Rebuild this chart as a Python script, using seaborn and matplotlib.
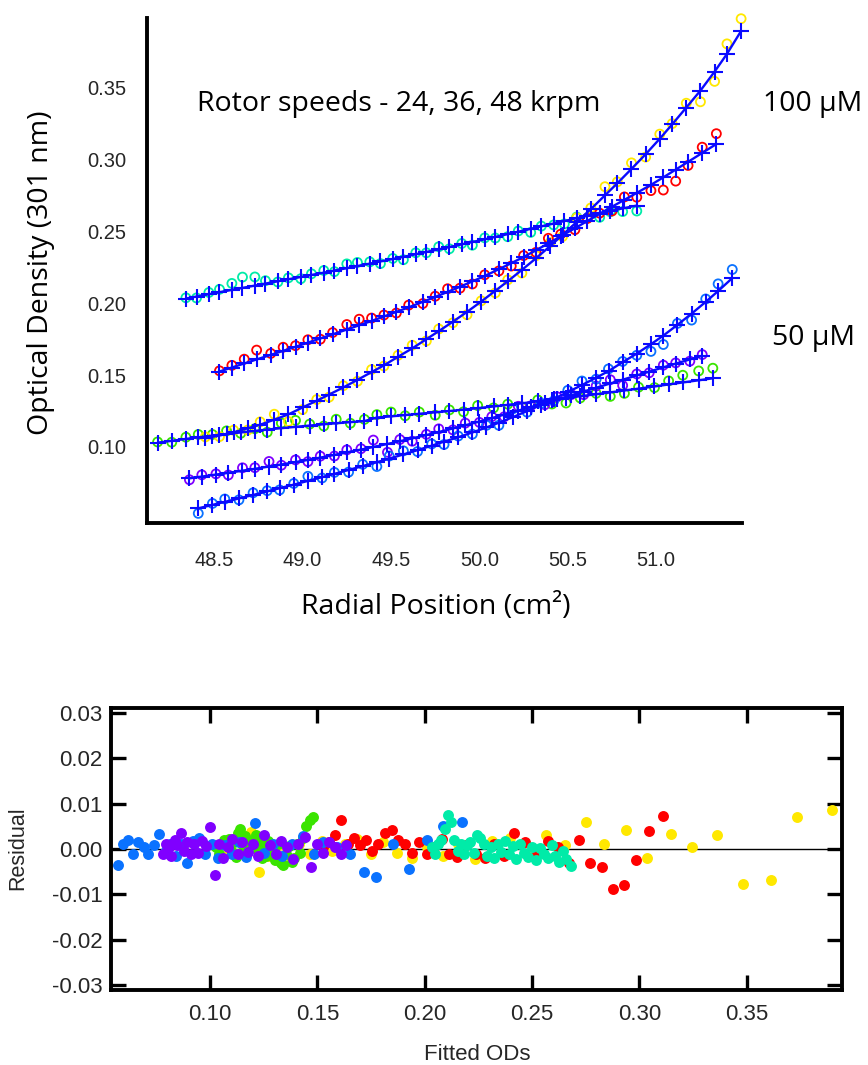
import numpy as np
import matplotlib
matplotlib.use("Agg")
import matplotlib.pyplot as plt
import seaborn as sns

# ---------------- data ----------------
# radial positions (cm^2), fitted OD and residual for each scan
teal_r = [48.34, 48.40, 48.47, 48.53, 48.60, 48.66, 48.73, 48.79, 48.86, 48.92, 48.99, 49.05, 49.12, 49.18, 49.25, 49.31, 49.38, 49.44, 49.51, 49.57,
          49.64, 49.70, 49.77, 49.83, 49.90, 49.96, 50.03, 50.09, 50.16, 50.22, 50.29, 50.35, 50.42, 50.48, 50.55, 50.61, 50.68, 50.74, 50.81, 50.89]
teal_fit = [0.2033, 0.2047, 0.2063, 0.2077, 0.2093, 0.2107, 0.2123, 0.2137, 0.2153, 0.2167, 0.2183, 0.2197, 0.2213, 0.2228, 0.2244, 0.2259, 0.2276, 0.2291, 0.2308, 0.2323,
            0.2341, 0.2357, 0.2375, 0.2391, 0.2410, 0.2426, 0.2445, 0.2462, 0.2481, 0.2498, 0.2518, 0.2535, 0.2555, 0.2572, 0.2592, 0.2608, 0.2626, 0.2642, 0.2660, 0.2680]
teal_res = [0.0005, -0.0010, 0.0012, 0.0020, 0.0045, 0.0075, 0.0060, 0.0020, -0.0005, 0.0010, -0.0012, 0.0008, 0.0015, -0.0008, 0.0030, 0.0025, 0.0012, -0.0015, 0.0004, -0.0020,
            0.0010, -0.0006, 0.0018, -0.0012, 0.0006, -0.0022, 0.0010, -0.0008, -0.0018, 0.0005, -0.0025, 0.0002, -0.0010, -0.0020, 0.0008, -0.0015, -0.0028, -0.0005, -0.0022, -0.0038]

red_r = [48.53, 48.60, 48.67, 48.74, 48.82, 48.89, 48.96, 49.03, 49.10, 49.17, 49.25, 49.32, 49.39, 49.46, 49.53, 49.60, 49.68, 49.75, 49.82, 49.89,
         49.96, 50.03, 50.11, 50.18, 50.25, 50.32, 50.39, 50.46, 50.54, 50.61, 50.68, 50.75, 50.82, 50.89, 50.97, 51.04, 51.11, 51.18, 51.26, 51.34]
red_fit = [0.1525, 0.1553, 0.1581, 0.1609, 0.1641, 0.1669, 0.1697, 0.1726, 0.1755, 0.1784, 0.1817, 0.1847, 0.1877, 0.1908, 0.1940, 0.1972, 0.2010, 0.2044, 0.2079, 0.2115,
           0.2152, 0.2190, 0.2237, 0.2279, 0.2322, 0.2369, 0.2417, 0.2466, 0.2522, 0.2572, 0.2622, 0.2672, 0.2720, 0.2768, 0.2824, 0.2876, 0.2930, 0.2984, 0.3046, 0.3108]
red_res = [0.0005, 0.0015, 0.0030, 0.0065, 0.0010, 0.0025, 0.0008, 0.0020, -0.0005, 0.0012, 0.0035, 0.0042, 0.0020, 0.0010, -0.0008, 0.0015, -0.0012, 0.0005, 0.0022, -0.0010,
           -0.0018, 0.0008, -0.0012, -0.0020, 0.0010, -0.0015, 0.0035, 0.0015, -0.0010, 0.0018, 0.0005, -0.0030, 0.0020, -0.0030, -0.0040, -0.0088, -0.0080, -0.0025, 0.0040, 0.0072]

yellow_r = [48.45, 48.53, 48.61, 48.69, 48.76, 48.84, 48.92, 49.00, 49.08, 49.15, 49.23, 49.31, 49.39, 49.46, 49.54, 49.62, 49.70, 49.77, 49.85, 49.93,
            50.01, 50.09, 50.16, 50.24, 50.32, 50.40, 50.47, 50.55, 50.63, 50.71, 50.78, 50.86, 50.94, 51.02, 51.09, 51.17, 51.25, 51.33, 51.40, 51.48]
yellow_fit = [0.1060, 0.1080, 0.1102, 0.1130, 0.1155, 0.1190, 0.1227, 0.1275, 0.1322, 0.1365, 0.1414, 0.1467, 0.1521, 0.1568, 0.1628, 0.1686, 0.1750, 0.1806, 0.1872, 0.1940,
              0.2012, 0.2087, 0.2153, 0.2232, 0.2313, 0.2398, 0.2476, 0.2565, 0.2655, 0.2751, 0.2835, 0.2935, 0.3037, 0.3145, 0.3245, 0.3362, 0.3480, 0.3612, 0.3735, 0.3895]
yellow_res = [0.0010, -0.0008, 0.0015, -0.0012, 0.0020, 0.0038, -0.0050, -0.0015, 0.0008, -0.0018, 0.0012, -0.0010, 0.0018, -0.0005, 0.0010, 0.0022, -0.0012, 0.0015, -0.0008, -0.0020,
              0.0005, -0.0015, 0.0010, -0.0022, 0.0018, 0.0025, -0.0012, 0.0030, 0.0008, 0.0060, 0.0010, 0.0042, -0.0020, 0.0032, 0.0005, 0.0030, -0.0078, -0.0068, 0.0070, 0.0085]

green_r = [48.18, 48.26, 48.34, 48.41, 48.49, 48.57, 48.65, 48.73, 48.80, 48.88, 48.96, 49.04, 49.12, 49.19, 49.27, 49.35,
           49.42, 49.50, 49.58, 49.66, 49.75, 49.83, 49.91, 49.99, 50.08, 50.16, 50.24, 50.33, 50.41, 50.49, 50.57, 50.66, 50.74, 50.82, 50.90, 50.99, 51.07, 51.15, 51.24, 51.32]
green_fit = [0.1030, 0.1043, 0.1056, 0.1067, 0.1079, 0.1090, 0.1101, 0.1112, 0.1121, 0.1131, 0.1140, 0.1149, 0.1158, 0.1165, 0.1173, 0.1180,
             0.1205, 0.1213, 0.1222, 0.1231, 0.1241, 0.1250, 0.1260, 0.1270, 0.1282, 0.1293, 0.1304, 0.1317, 0.1329, 0.1341, 0.1353, 0.1367, 0.1380, 0.1393, 0.1406, 0.1421, 0.1435, 0.1449, 0.1464, 0.1478]
green_res = [0.0005, -0.0010, 0.0012, 0.0020, 0.0008, 0.0022, -0.0006, 0.0015, -0.0018, 0.0035, 0.0045, 0.0010, -0.0012, 0.0028, -0.0008, 0.0012,
             0.0020, 0.0030, -0.0005, 0.0012, -0.0020, 0.0008, -0.0015, 0.0018, -0.0010, 0.0005, -0.0025, 0.0010, -0.0030, -0.0035, -0.0012, 0.0006, -0.0028, -0.0020, 0.0010, -0.0008, 0.0025, 0.0050, 0.0065, 0.0070]

purple_r = [48.36, 48.43, 48.51, 48.58, 48.66, 48.73, 48.81, 48.88, 48.96, 49.03, 49.10, 49.18, 49.25, 49.33, 49.40, 49.48, 49.55, 49.62, 49.70, 49.77,
            49.85, 49.92, 50.00, 50.07, 50.14, 50.22, 50.29, 50.37, 50.44, 50.52, 50.59, 50.66, 50.74, 50.81, 50.89, 50.96, 51.04, 51.11, 51.19, 51.26]
purple_fit = [0.0782, 0.0794, 0.0808, 0.0820, 0.0835, 0.0848, 0.0864, 0.0878, 0.0895, 0.0910, 0.0926, 0.0945, 0.0962, 0.0982, 0.1000, 0.1021, 0.1040, 0.1060, 0.1083, 0.1104,
              0.1129, 0.1151, 0.1177, 0.1201, 0.1225, 0.1253, 0.1278, 0.1306, 0.1331, 0.1360, 0.1386, 0.1412, 0.1442, 0.1468, 0.1498, 0.1524, 0.1554, 0.1580, 0.1609, 0.1635]
purple_res = [-0.0010, 0.0012, 0.0005, -0.0015, 0.0020, 0.0008, 0.0035, -0.0005, 0.0015, -0.0012, 0.0010, -0.0008, 0.0018, 0.0006, 0.0048, -0.0058, 0.0012, -0.0020, 0.0005, 0.0022,
              -0.0010, 0.0015, -0.0006, 0.0010, -0.0015, 0.0030, 0.0008, -0.0012, 0.0018, 0.0005, -0.0022, 0.0012, 0.0026, -0.0040, 0.0010, -0.0008, 0.0015, 0.0005, -0.0012, 0.0008]

blue_r = [48.41, 48.49, 48.56, 48.64, 48.72, 48.80, 48.87, 48.95, 49.03, 49.11, 49.18, 49.26, 49.34, 49.42, 49.49, 49.57, 49.65, 49.73, 49.80, 49.88,
          49.96, 50.04, 50.11, 50.19, 50.27, 50.35, 50.42, 50.50, 50.58, 50.66, 50.73, 50.81, 50.89, 50.97, 51.04, 51.12, 51.20, 51.28, 51.35, 51.43]
blue_fit = [0.0573, 0.0597, 0.0618, 0.0642, 0.0666, 0.0691, 0.0713, 0.0738, 0.0764, 0.0790, 0.0813, 0.0840, 0.0867, 0.0894, 0.0919, 0.0948, 0.0978, 0.1009, 0.1037, 0.1068,
            0.1101, 0.1136, 0.1169, 0.1208, 0.1250, 0.1294, 0.1335, 0.1382, 0.1431, 0.1482, 0.1528, 0.1590, 0.1650, 0.1715, 0.1775, 0.1850, 0.1928, 0.2010, 0.2085, 0.2175]
blue_res = [-0.0035, 0.0010, 0.0020, -0.0010, 0.0015, 0.0005, -0.0012, 0.0008, 0.0032, -0.0006, 0.0010, -0.0015, 0.0012, -0.0030, 0.0018, 0.0025, -0.0010, 0.0012, -0.0020, 0.0008,
            -0.0012, 0.0015, -0.0018, 0.0058, -0.0008, 0.0010, -0.0015, 0.0012, 0.0028, -0.0010, 0.0015, 0.0005, -0.0012, -0.0050, -0.0062, 0.0010, -0.0045, 0.0020, 0.0050, 0.0060]

top_xticks = [48.5, 49.0, 49.5, 50.0, 50.5, 51.0]
top_xlabels = ["48.5", "49.0", "49.5", "50.0", "50.5", "51.0"]
top_yticks = [0.10, 0.15, 0.20, 0.25, 0.30, 0.35]
top_ylabels = ["0.10", "0.15", "0.20", "0.25", "0.30", "0.35"]
bot_xticks = [0.10, 0.15, 0.20, 0.25, 0.30, 0.35]
bot_xlabels = ["0.10", "0.15", "0.20", "0.25", "0.30", "0.35"]
bot_yticks = [-0.03, -0.02, -0.01, 0.00, 0.01, 0.02, 0.03]
bot_ylabels = ["-0.03", "-0.02", "-0.01", "0.00", "0.01", "0.02", "0.03"]

# ---------------- styling ----------------
C_TEAL, C_RED, C_YEL = "#00EBA8", "#FF0000", "#FFE800"
C_GRN, C_PUR, C_BLU = "#3AE400", "#8000FF", "#0A72FF"
C_FIT = "#0A0AFF"
TXT = "#262626"

sns.set_theme(style="white")
plt.rcParams['font.family'] = ['Liberation Sans', 'DejaVu Sans']

W, H = 868, 1065
fig = plt.figure(figsize=(W / 100, H / 100), dpi=100)


def box(l, t, r, b):
    return [l / W, 1 - b / H, (r - l) / W, (b - t) / H]


ax1 = fig.add_axes(box(147, 18, 742, 523))
ax2 = fig.add_axes(box(111, 708, 842, 990))

series = [
    (C_TEAL, teal_r, teal_fit, teal_res),
    (C_GRN, green_r, green_fit, green_res),
    (C_PUR, purple_r, purple_fit, purple_res),
    (C_BLU, blue_r, blue_fit, blue_res),
    (C_YEL, yellow_r, yellow_fit, yellow_res),
    (C_RED, red_r, red_fit, red_res),
]

# ---------- top panel ----------
for c, r, fit, res in series:
    obs = np.array(fit) + np.array(res)
    sns.scatterplot(x=r, y=obs, ax=ax1, color=c, edgecolor=c, s=42,
                    linewidth=1.3, clip_on=False, zorder=2)
    ax1.collections[-1].set_facecolor("none")
    sns.lineplot(x=r, y=fit, ax=ax1, sort=False, estimator=None, color=C_FIT,
                 lw=1.7, marker="+", markersize=12, mec=C_FIT, mew=1.5,
                 zorder=3, clip_on=False)

ax1.set_xlim(48.12, 51.485)
ax1.set_ylim(0.0471, 0.3985)
ax1.set_xticks(top_xticks, top_xlabels)
ax1.set_yticks(top_yticks, top_ylabels)
ax1.set_xlabel("")
ax1.set_ylabel("")
for s in ["top", "right"]:
    ax1.spines[s].set_visible(False)
for s in ["left", "bottom"]:
    ax1.spines[s].set_linewidth(2.8)
    ax1.spines[s].set_color("black")
ax1.tick_params(axis="both", direction="out", length=11, width=2.4,
                color="black", labelsize=14.5, labelcolor=TXT)
ax1.tick_params(axis="x", pad=9)
ax1.tick_params(axis="y", pad=4)

# ---------- bottom panel ----------
ax2.axhline(0, color="black", lw=1.0, zorder=1)
for c, r, fit, res in [series[4], series[5], series[1], series[3], series[2], series[0]]:
    sns.scatterplot(x=fit, y=res, ax=ax2, color=c, s=62, linewidth=0, zorder=2)

ax2.set_xlim(0.0539, 0.3943)
ax2.set_ylim(-0.0311, 0.0311)
ax2.set_xticks(bot_xticks, bot_xlabels)
ax2.set_yticks(bot_yticks, bot_ylabels)
ax2.set_xlabel("")
ax2.set_ylabel("")
for s in ["top", "right", "left", "bottom"]:
    ax2.spines[s].set_visible(True)
    ax2.spines[s].set_linewidth(2.8)
    ax2.spines[s].set_color("black")
ax2.tick_params(axis="both", direction="in", length=11, width=2.4, color="black",
                top=True, right=True, bottom=True, left=True,
                labelsize=16, labelcolor=TXT)
ax2.tick_params(axis="x", pad=10)
ax2.tick_params(axis="y", pad=6)

# ---------- text ----------
big = dict(family=["Open Sans", "DejaVu Sans"], fontsize=20.5, color="black")
fig.text(41 / W, 1 - 273 / H, "Optical Density (301 nm)", rotation=90,
         ha="center", va="center", **big)
fig.text(436 / W, 1 - 607 / H, "Radial Position (cm²)", ha="center", va="center", **big)
fig.text(197 / W, 1 - 104 / H, "Rotor speeds - 24, 36, 48 krpm", ha="left", va="center", **big)
fig.text(763 / W, 1 - 104 / H, "100 μM", ha="left", va="center", **big)
fig.text(772 / W, 1 - 338 / H, "50 μM", ha="left", va="center", **big)
fig.text(18 / W, 1 - 848 / H, "Residual", rotation=90, ha="center", va="center",
         fontsize=15.5, color=TXT)
fig.text(477 / W, 1 - 1055 / H, "Fitted ODs", ha="center", va="center",
         fontsize=16, color=TXT)

fig.savefig("out.png", dpi=100)
